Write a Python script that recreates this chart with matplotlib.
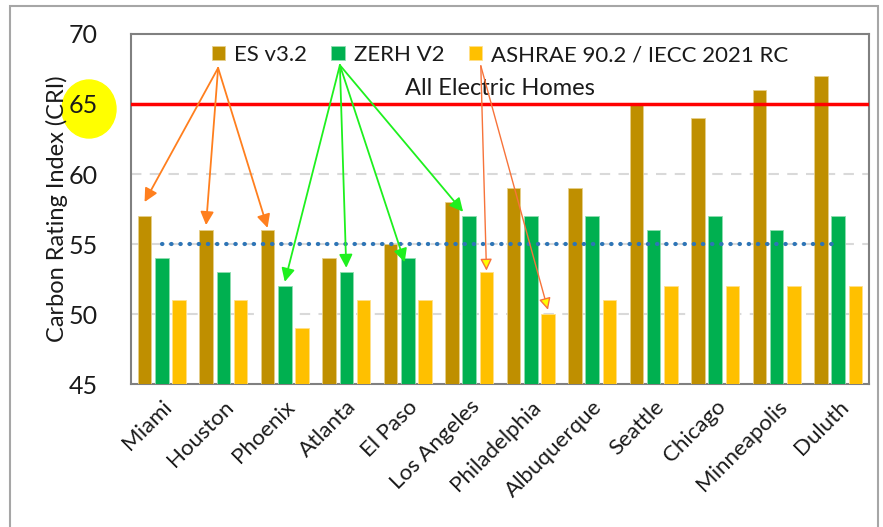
import matplotlib.pyplot as plt
import numpy as np
from matplotlib.patches import Ellipse, Rectangle

cities = ['Miami', 'Houston', 'Phoenix', 'Atlanta', 'El Paso', 'Los Angeles',
          'Philadelphia', 'Albuquerque', 'Seattle', 'Chicago', 'Minneapolis', 'Duluth']
es_v32 = [57, 56, 56, 54, 55, 58, 59, 59, 65, 64, 66, 67]
zerh_v2 = [54, 53, 52, 53, 54, 57, 57, 57, 56, 57, 56, 57]
ashrae = [51, 51, 49, 51, 51, 53, 50, 51, 52, 52, 52, 52]
all_electric = 65
target = 55

plt.rcParams['font.family'] = ['Lato', 'DejaVu Sans']
txt = '#1A1A1A'

fig = plt.figure(figsize=(8.83, 5.27), dpi=100)
ax = fig.add_axes([0.1484, 0.2713, 0.8357, 0.6642])

x = np.arange(len(cities))
w = 0.22
off = 0.28
ax.bar(x - off, es_v32, w, color='#BF8F00', edgecolor='#E6CF8A', lw=0.6, label='ES v3.2', zorder=3)
ax.bar(x, zerh_v2, w, color='#00B050', edgecolor='#8FDDB0', lw=0.6, label='ZERH V2', zorder=3)
ax.bar(x + off, ashrae, w, color='#FFC000', edgecolor='#FFE08A', lw=0.6,
       label='ASHRAE 90.2 / IECC 2021 RC', zorder=3)

ax.set_ylim(45, 70)
ax.set_xlim(-0.5, len(cities) - 0.5)
ax.set_yticks([45, 50, 55, 60, 65, 70])
for g in [50, 55, 60]:
    ax.axhline(g, color='#D9D9D9', lw=1.5, ls=(0, (5, 4)), zorder=1)

ax.axhline(all_electric, color='#FF0000', lw=2.5, zorder=4)
ax.text(len(cities) / 2 - 0.5, all_electric + 0.35, 'All Electric Homes', ha='center', va='bottom',
        fontsize=17, color=txt)
ax.plot([0, len(cities) - 1], [target, target], color='#2E75B6', lw=3, ls=(0, (0.1, 2.1)),
        dash_capstyle='round', zorder=5)

ax.set_xticks(x)
ax.set_xticklabels(cities, rotation=45, ha='right', rotation_mode='anchor', fontsize=16, color=txt)
ax.tick_params(axis='y', labelsize=18, colors=txt, length=0, pad=24)
ax.tick_params(axis='x', length=0, pad=9)
ax.set_ylabel('Carbon Rating Index (CRI)', fontsize=17, color=txt, labelpad=0)
for s in ax.spines.values():
    s.set_color('#808080')
    s.set_linewidth(1.5)

leg = ax.legend(loc='upper center', ncol=3, frameon=False, fontsize=16, bbox_to_anchor=(0.5, 1.025),
                handlelength=0.6, handleheight=0.6, handletextpad=0.4, columnspacing=1.1)
for t in leg.get_texts():
    t.set_color(txt)

# arrows from legend entries down to bars
orange = dict(arrowstyle='-|>,head_length=0.8,head_width=0.4', color='#FF7F1E', lw=1.3, shrinkA=0, shrinkB=0)
for i, dy in [(0, 1.0), (1, 0.35), (2, 0.15)]:
    ax.annotate('', xy=(x[i] - off, es_v32[i] + dy), xytext=(0.118, 0.903),
                textcoords='axes fraction', arrowprops=orange, zorder=6)
green = dict(arrowstyle='-|>,head_length=0.8,head_width=0.4', color='#1EF01E', lw=1.3, shrinkA=0, shrinkB=0)
for i, dx, dy in [(2, 0.0, 0.3), (3, 0.0, 0.3), (4, -0.05, -0.3), (5, -0.1, 0.3)]:
    ax.annotate('', xy=(x[i] + dx, zerh_v2[i] + dy), xytext=(0.283, 0.911),
                textcoords='axes fraction', arrowprops=green, zorder=6)
thin = dict(arrowstyle='-|>,head_length=0.7,head_width=0.35', fc='#FFFF00', ec='#F7733A', lw=1.0,
            shrinkA=0, shrinkB=0)
for i, dy in [(5, 0.1), (6, 0.3)]:
    ax.annotate('', xy=(x[i] + off, ashrae[i] + dy), xytext=(0.474, 0.909),
                textcoords='axes fraction', arrowprops=thin, zorder=6)

# yellow highlight behind the 65 tick label
W, H = 883, 527
fig.patches.append(Ellipse((89 / W, 1 - 109 / H), 54 / W, 58 / H, transform=fig.transFigure,
                           color='#FFFF00', zorder=-1))
fig.patches.append(Rectangle((10 / W, -0.1), 868 / W, 1.1 - 6 / H, transform=fig.transFigure,
                             fill=False, ec='#A6A6A6', lw=1.5, zorder=-2))

plt.savefig('out.png', dpi=100)
plt.close()
